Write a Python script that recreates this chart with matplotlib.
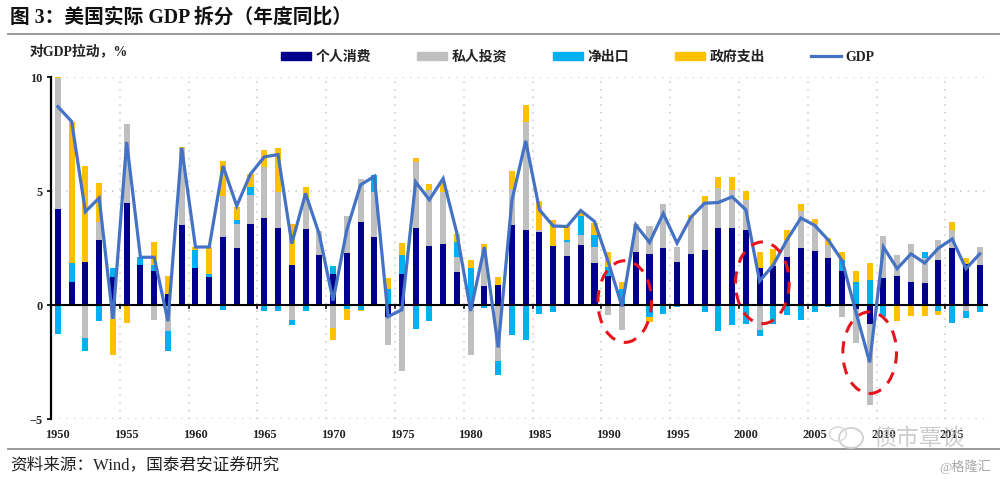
import numpy as np
import matplotlib
matplotlib.use("Agg")
import matplotlib.pyplot as plt
from matplotlib.patches import Ellipse, Patch
from matplotlib.lines import Line2D

years = list(range(1950, 2018))
consumption = [4.2,1.0,1.9,2.87,1.25,4.5,1.75,1.5,0.5,3.5,1.65,1.25,3.0,2.5,3.55,3.8,3.4,1.75,3.35,2.2,
               1.35,2.3,3.65,2.97,-0.5,1.35,3.4,2.58,2.67,1.45,-0.1,0.85,0.87,3.5,3.3,3.2,2.58,2.15,2.65,1.85,
               1.28,-0.05,2.35,2.23,2.5,1.9,2.25,2.43,3.4,3.4,3.3,1.65,1.7,2.12,2.51,2.38,2.05,1.48,-0.15,-0.83,
               1.18,1.29,1.02,0.99,1.97,2.49,1.81,1.74]
investment = [5.75,0.0,-1.45,0.78,-0.6,3.44,0.0,-0.63,-1.15,3.4,0.0,0.0,1.78,1.05,1.27,2.27,1.54,-0.63,1.25,1.05,
              -1.0,1.62,1.9,1.97,-1.23,-2.9,2.87,2.46,2.27,0.68,-2.1,1.6,-2.44,1.6,4.73,0.1,0.0,0.6,0.43,0.72,
              -0.45,-1.03,1.2,1.23,1.93,0.67,1.57,2.07,1.73,1.63,1.32,-1.1,-0.05,0.75,1.6,1.2,0.6,-0.5,-1.5,-3.54,
              1.86,0.91,1.66,1.07,0.9,0.81,-0.25,0.8]
net_exports = [-1.27,0.84,-0.55,-0.68,0.37,0.0,0.35,0.27,-0.87,0.0,0.78,0.1,-0.2,0.2,0.37,-0.27,-0.27,-0.22,-0.27,0.0,
               0.37,-0.17,-0.2,0.77,0.7,0.85,-1.05,-0.7,0.0,0.62,1.62,-0.13,-0.6,-1.3,-1.53,-0.4,-0.28,0.12,0.84,0.51,
               0.4,0.7,-0.05,-0.53,-0.4,-0.1,-0.02,-0.3,-1.13,-0.87,-0.83,-0.23,-0.77,-0.45,-0.65,-0.28,-0.1,0.51,1.02,1.11,
               -0.5,-0.05,-0.05,0.26,-0.25,-0.77,-0.29,-0.3]
government = [0.05,6.2,4.2,1.7,-1.6,-0.8,0.0,0.98,0.78,0.05,0.11,1.2,1.55,0.55,0.55,0.73,1.93,1.8,0.59,0.0,
              -0.52,-0.47,-0.07,-0.03,0.5,0.52,0.16,0.26,0.41,0.38,0.38,0.23,0.38,0.8,0.74,1.26,1.17,0.6,0.17,0.54,
              0.65,0.3,0.0,-0.19,0.0,0.0,0.14,0.27,0.47,0.57,0.37,0.67,0.75,0.43,0.33,0.2,0.29,0.36,0.5,0.73,
              0.0,-0.65,-0.42,-0.47,-0.17,0.35,0.28,0.0]
gdp = [8.7,8.05,4.1,4.7,-0.6,7.15,2.1,2.1,-0.7,6.9,2.55,2.55,6.1,4.35,5.75,6.5,6.6,2.7,4.9,3.1,
       0.2,3.3,5.27,5.65,-0.5,-0.2,5.4,4.62,5.55,3.15,-0.25,2.55,-1.85,4.6,7.2,4.18,3.47,3.45,4.15,3.67,
       1.9,-0.05,3.52,2.75,4.02,2.72,3.85,4.47,4.5,4.75,4.18,1.05,1.77,2.87,3.82,3.5,2.85,1.95,-0.3,-2.5,
       2.55,1.6,2.25,1.85,2.5,2.9,1.6,2.25]

series_names = ["个人消费", "私人投资", "净出口", "政府支出"]
colors = ["#00008B", "#BFBFBF", "#00B0F0", "#FFC000"]
line_name = "GDP"
line_color = "#4472C4"
title = "图 3：美国实际 GDP 拆分（年度同比）"
y_note = "对GDP拉动，%"
source = "资料来源：Wind，国泰君安证券研究"
watermark = "债市覃谈"
credit = "@格隆汇"
label_years = list(range(1950, 2016, 5))
y_ticks = [-5, 0, 5, 10]

serif_cjk = ["Liberation Serif", "Noto Sans CJK SC", "DejaVu Sans"]
W, H = 1000, 482
fig = plt.figure(figsize=(W / 100, H / 100), dpi=100, facecolor="white")
L, R, T, B = 51, 988, 77, 419.3
ax = fig.add_axes([L / W, 1 - B / H, (R - L) / W, (B - T) / H])
ax.set_xlim(1949.5, 2017.6)
ax.set_ylim(-5, 10)

x = np.array(years)
pos = np.zeros(len(x))
neg = np.zeros(len(x))
for vals, c in zip([consumption, investment, net_exports, government], colors):
    v = np.array(vals)
    base = np.where(v >= 0, pos, neg)
    ax.bar(x, v, bottom=base, width=0.44, color=c, linewidth=0, zorder=3)
    pos += np.where(v >= 0, v, 0)
    neg += np.where(v < 0, v, 0)
ax.plot(x, gdp, color=line_color, lw=2.3, zorder=5, solid_joinstyle="miter")

# grid
dot = dict(color="#C8C8C8", lw=1.1, linestyle=(0, (1, 4)), zorder=1)
for yy in [5, 10, -5]:
    ax.axhline(yy, **dot)
for xx in np.arange(1954.5, 2015, 5):
    ax.axvline(xx, **dot)
    ax.plot([xx, xx], [-0.14, 0], color="black", lw=1.2, zorder=4)
ax.axhline(0, color="black", lw=1.5, zorder=4)

for s in ["top", "right", "bottom"]:
    ax.spines[s].set_visible(False)
ax.spines["left"].set_linewidth(1.6)
ax.set_yticks(y_ticks)
ax.set_xticks(label_years)
ax.tick_params(axis="x", length=0, pad=7)
ax.tick_params(axis="y", length=3, width=1.2, pad=3)
for t in ax.get_xticklabels() + ax.get_yticklabels():
    t.set_fontfamily("Liberation Serif")
    t.set_fontweight("bold")
    t.set_fontsize(8.8)
    t.set_color("#222222")

# highlighted episodes
for cx, cy in [(1991.2, 0.16), (2001.2, 0.98), (2009.0, -2.08)]:
    ax.add_patch(Ellipse((cx, cy), 3.9, 3.58, fill=False, ec="#E8141C", lw=2.2,
                         linestyle=(0, (4, 3)), zorder=6))

# legend
handles = [Patch(color=c, label=n) for c, n in zip(colors, series_names)]
handles.append(Line2D([0], [0], color=line_color, lw=2.3, label=line_name))
leg = fig.legend(handles=handles, ncol=5, loc="center left",
                 bbox_to_anchor=(268 / W, 1 - 57 / H), frameon=False,
                 prop={"family": serif_cjk, "size": 10, "weight": "bold"},
                 handlelength=2.2, handleheight=0.5, handletextpad=0.3,
                 columnspacing=3.3)
for t in leg.get_texts():
    t.set_color("#222222")

# page furniture
def ftext(px, py, s, **kw):
    kw.setdefault("family", serif_cjk)
    kw.setdefault("va", "center")
    return fig.text(px / W, 1 - py / H, s, **kw)

ftext(10, 17, title, fontsize=14.2, weight="bold", color="#111111")
ftext(30, 51, y_note, fontsize=10, weight="bold", color="#222222")
ftext(10, 465, source, fontsize=12, color="#222222")
ftext(873, 439, watermark, fontsize=16.5, color="#BDBDBD", alpha=0.75, zorder=10)
ftext(939, 467, credit, fontsize=9.5, color="#A8A8A8", zorder=10)

for py in (33.7, 449):
    fig.add_artist(Line2D([8 / W, 1], [1 - py / H] * 2, color="#999999", lw=1.4))

# chat-bubble mark of the watermark
wm = fig.add_axes([0, 0, 1, 1], facecolor="none", zorder=9)
wm.set_xlim(0, W)
wm.set_ylim(H, 0)
wm.axis("off")
wm.add_patch(Ellipse((851, 438), 24, 20, fill=False, ec="#CFCFCF", lw=1.3))
wm.add_patch(Ellipse((838, 434), 17, 14, fill=False, ec="#DADADA", lw=1.1))

fig.savefig("out.png", dpi=100)
